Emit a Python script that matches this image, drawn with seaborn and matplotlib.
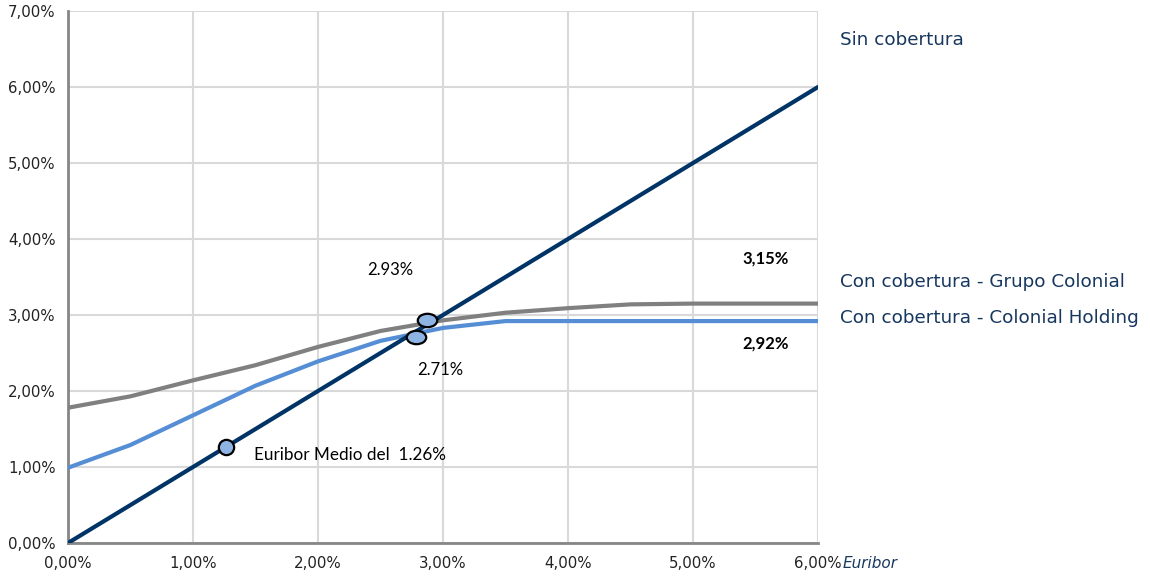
import matplotlib
matplotlib.use("Agg")
import matplotlib.pyplot as plt
from matplotlib.path import Path
from matplotlib.ticker import FuncFormatter, MultipleLocator
import numpy as np
import pandas as pd
import seaborn as sns

# Euribor levels (%) and the resulting financing cost (%) for each scenario
euribor = [0.0, 0.5, 1.0, 1.5, 2.0, 2.5, 3.0, 3.5, 4.0, 4.5, 5.0, 5.5, 6.0]
sin_cobertura = [0.0, 0.5, 1.0, 1.5, 2.0, 2.5, 3.0, 3.5, 4.0, 4.5, 5.0, 5.5, 6.0]
grupo_colonial = [1.78, 1.93, 2.14, 2.34, 2.58, 2.79, 2.93, 3.03, 3.09, 3.14, 3.15, 3.15, 3.15]
colonial_holding = [0.99, 1.29, 1.68, 2.07, 2.39, 2.66, 2.83, 2.92, 2.92, 2.92, 2.92, 2.92, 2.92]

# Highlighted points
medio_x = [1.26]
medio_y = [1.26]
cruce_x = [2.87, 2.78]
cruce_y = [2.93, 2.71]

final_grupo = 3.15
final_holding = 2.92

sns.set_style("white")
plt.rcParams["font.family"] = ["DejaVu Sans"]

fig = plt.figure(figsize=(11.5, 5.78), dpi=100)
ax = fig.add_axes([68 / 1150, 35 / 578, 750 / 1150, 532 / 578])

navy = "#003366"
light_blue = "#558ED5"
grey = "#808080"
label_col = "#17375E"

df = pd.DataFrame({"euribor": euribor, "sin": sin_cobertura,
                   "grupo": grupo_colonial, "holding": colonial_holding})

sns.lineplot(data=df, x="euribor", y="grupo", color=grey, linewidth=3.0, ax=ax, zorder=3)
sns.lineplot(data=df, x="euribor", y="holding", color=light_blue, linewidth=3.0, ax=ax, zorder=3)
sns.lineplot(data=df, x="euribor", y="sin", color=navy, linewidth=3.0, ax=ax, zorder=4)

# round and flattened markers
circle = Path.unit_circle()
ellipse = Path(circle.vertices * np.array([1.45, 1.0]), circle.codes)
ax.plot(medio_x, medio_y, linestyle="none", marker="o", markersize=11,
        markerfacecolor="#8DB4E2", markeredgecolor="black", markeredgewidth=1.6, zorder=6)
ax.plot(cruce_x, cruce_y, linestyle="none", marker=ellipse, markersize=14,
        markerfacecolor="#8DB4E2", markeredgecolor="black", markeredgewidth=1.6, zorder=6)

ax.set_xlim(0, 6)
ax.set_ylim(0, 7)
ax.xaxis.set_major_locator(MultipleLocator(1))
ax.yaxis.set_major_locator(MultipleLocator(1))
fmt = FuncFormatter(lambda v, p: f"{v:.2f}".replace(".", ",") + "%")
ax.xaxis.set_major_formatter(fmt)
ax.yaxis.set_major_formatter(fmt)
ax.set_xlabel("")
ax.set_ylabel("")
ax.tick_params(axis="both", length=0, labelsize=10.8, colors="#222222")
ax.tick_params(axis="y", pad=9)
ax.tick_params(axis="x", pad=9)
ax.grid(True, color="#D9D9D9", linewidth=1.5, zorder=0)
ax.set_axisbelow(True)
for side in ["top", "right"]:
    ax.spines[side].set_visible(False)
for side in ["left", "bottom"]:
    ax.spines[side].set_color("#868686")
    ax.spines[side].set_linewidth(2.0)

ann_font = ["Lato", "DejaVu Sans"]
ax.text(2.58, 3.59, f"{cruce_y[0]:.2f}%", ha="center", va="center", fontsize=12,
        family=ann_font, color="black")
ax.text(2.98, 2.28, f"{cruce_y[1]:.2f}%", ha="center", va="center", fontsize=12,
        family=ann_font, color="black")
ax.text(1.49, 1.16, f"Euribor Medio del  {medio_x[0]:.2f}%", ha="left", va="center",
        fontsize=12.3, family=ann_font, color="black")
ax.text(5.58, 3.74, f"{final_grupo:.2f}".replace(".", ",") + "%", ha="center", va="center",
        fontsize=12, family=ann_font, fontweight="bold", color="black")
ax.text(5.58, 2.63, f"{final_holding:.2f}".replace(".", ",") + "%", ha="center", va="center",
        fontsize=12, family=ann_font, fontweight="bold", color="black")

# series names to the right of the plot
ax.text(6.18, 6.62, "Sin cobertura", ha="left", va="center", fontsize=13.2,
        color=label_col, clip_on=False)
ax.text(6.18, 3.43, "Con cobertura - Grupo Colonial", ha="left", va="center", fontsize=13.2,
        color=label_col, clip_on=False)
ax.text(6.18, 2.96, "Con cobertura - Colonial Holding", ha="left", va="center", fontsize=13.2,
        color=label_col, clip_on=False)
ax.text(6.2, -0.27, "Euribor", ha="left", va="center", fontsize=11, style="italic",
        color=label_col, clip_on=False)

fig.savefig("out.png", dpi=100, facecolor="white")
